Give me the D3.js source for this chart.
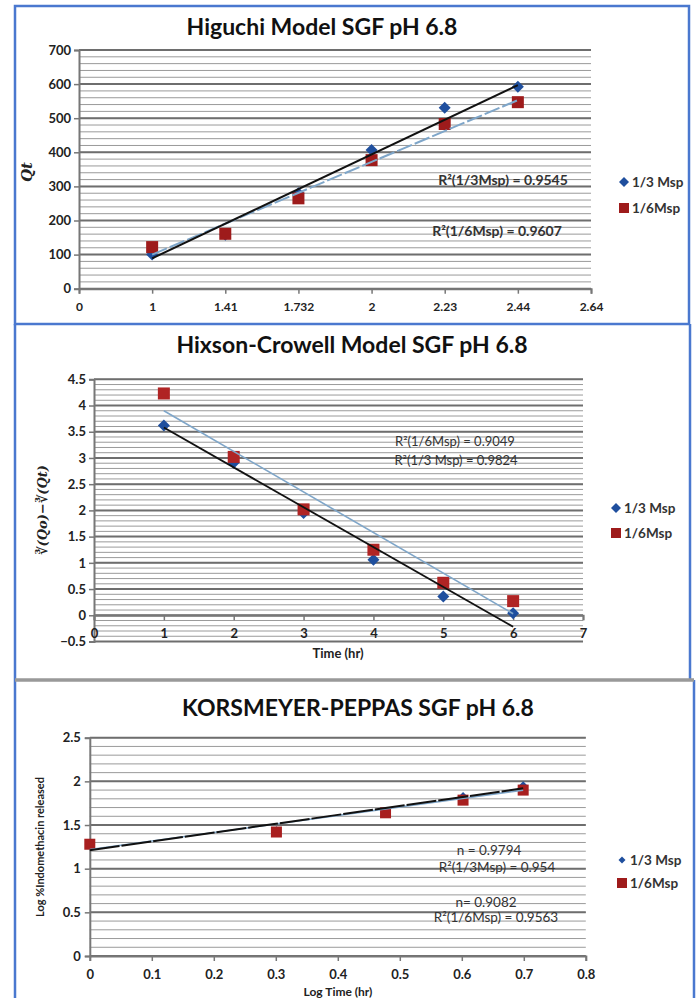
<!DOCTYPE html>
<html><head><meta charset="utf-8">
<script src="https://cdn.jsdelivr.net/npm/d3@7"></script>
<style>
html,body{margin:0;padding:0;background:#fff;}
svg{display:block;}
</style></head>
<body>
<svg id="c" width="697" height="998"></svg>
<script>
// ---------- DATA ----------
const higuchiTicks = ["0","1","1.41","1.732","2","2.23","2.44","2.64"];
const higuchiPos = [1,2,3,4,5,6];
const higuchi13 = [100,158,280,407,531,592];
const higuchi16 = [122,161,265,377,483,547];
const higuchiTrend13 = [89,597];
const higuchiTrend16 = [100,553];

const hixsonTime = [1,2,3,4,5,6];
const hixson13 = [3.62,2.91,1.95,1.06,0.36,0.04];
const hixson16 = [4.23,3.02,2.02,1.25,0.62,0.27];
const hixsonTrend13 = [3.58,-0.22];
const hixsonTrend16 = [3.90,0.03];

const kpLogTime = [0,0.301,0.477,0.602,0.699];
const kp13 = [1.28,1.43,1.65,1.82,1.945];
const kp16 = [1.28,1.42,1.64,1.785,1.90];
const kpTrend13 = [1.21,1.92];
const kpTrend16 = [1.22,1.90];

const seriesNames = ["1/3 Msp","1/6Msp"];

// ---------- DRAW ----------
const svg = d3.select("#c");
const FONT = "Lato, 'Open Sans', sans-serif";
const BLUE = "#1f4f9e", RED = "#9e1b1b", TREND2 = "#7fa6c9";

// panel borders
svg.append("rect").attr("x",15).attr("y",6).attr("width",674).attr("height",318)
  .attr("fill","none").attr("stroke","#4a78cf").attr("stroke-width",2.5);
svg.append("line").attr("x1",15).attr("x2",15).attr("y1",324).attr("y2",998).attr("stroke","#4a78cf").attr("stroke-width",2.5);
svg.append("line").attr("x1",690).attr("x2",690).attr("y1",324).attr("y2",680).attr("stroke","#4a78cf").attr("stroke-width",2.5);
svg.append("line").attr("x1",694).attr("x2",694).attr("y1",680).attr("y2",998).attr("stroke","#4a78cf").attr("stroke-width",2.5);
svg.append("line").attr("x1",15).attr("x2",694).attr("y1",680).attr("y2",680).attr("stroke","#999").attr("stroke-width",3.5);

function grid(g, y, x0, x1, majors, minors){
  g.selectAll(null).data(minors).enter().append("line")
    .attr("x1",x0).attr("x2",x1).attr("y1",d=>y(d)).attr("y2",d=>y(d))
    .attr("stroke","#9a9a9a").attr("stroke-width",1);
  g.selectAll(null).data(majors).enter().append("line")
    .attr("x1",x0).attr("x2",x1).attr("y1",d=>y(d)).attr("y2",d=>y(d))
    .attr("stroke","#6e6e6e").attr("stroke-width",2);
}
function diamond(g, x, y, xs, ys, r){
  g.selectAll(null).data(xs.map((d,i)=>[d,ys[i]])).enter().append("path")
    .attr("d",d=>`M${x(d[0])},${y(d[1])-r}L${x(d[0])+r},${y(d[1])}L${x(d[0])},${y(d[1])+r}L${x(d[0])-r},${y(d[1])}Z`)
    .attr("fill",BLUE);
}
function square(g, x, y, xs, ys, s, col){
  g.selectAll(null).data(xs.map((d,i)=>[d,ys[i]])).enter().append("rect")
    .attr("x",d=>x(d[0])-s/2).attr("y",d=>y(d[1])-s/2).attr("width",s).attr("height",s)
    .attr("fill",col||RED);
}
function trend(g, x, y, xs, ys, col, w, dash){
  const l = g.append("path").datum(xs.map((d,i)=>[d,ys[i]]))
    .attr("d",d3.line().x(d=>x(d[0])).y(d=>y(d[1])))
    .attr("stroke",col).attr("stroke-width",w).attr("fill","none");
  if(dash) l.attr("stroke-dasharray",dash);
}
function legend(g, x, y1, y2, fs, dsz){
  g.append("path").attr("d",`M${x},${y1-dsz}L${x+dsz},${y1}L${x},${y1+dsz}L${x-dsz},${y1}Z`).attr("fill",BLUE);
  g.append("rect").attr("x",x-5).attr("y",y2-5).attr("width",10).attr("height",10).attr("fill",RED);
  g.append("text").attr("x",x+8).attr("y",y1).attr("dy","0.35em").text(seriesNames[0])
    .attr("font-family",FONT).attr("font-size",fs).attr("font-weight","bold").attr("fill","#333");
  g.append("text").attr("x",x+8).attr("y",y2).attr("dy","0.35em").text(seriesNames[1])
    .attr("font-family",FONT).attr("font-size",fs).attr("font-weight","bold").attr("fill","#333");
}
function txt(g, x, y, s, fs, opts){
  opts = opts||{};
  const t = g.append("text").attr("x",x).attr("y",y).attr("dy","0.35em").text(s)
    .attr("font-family",opts.family||FONT).attr("font-size",fs)
    .attr("font-weight",opts.weight||"normal").attr("fill",opts.fill||"#222")
    .attr("text-anchor",opts.anchor||"start");
  if(opts.style) t.attr("font-style",opts.style);
  if(opts.rotate) t.attr("transform",`rotate(-90,${x},${y})`);
  return t;
}

// ===== Panel 1: Higuchi =====
{
  const g = svg.append("g");
  const x = d3.scaleLinear().domain([0,7]).range([79,591]);
  const y = d3.scaleLinear().domain([0,700]).range([288.7,50]);
  grid(g, y, 79, 591, d3.range(0,701,100), d3.range(0,701,20));
  // axes
  const ya = g.append("g").attr("transform","translate(79,0)")
    .call(d3.axisLeft(y).tickValues(d3.range(0,701,100)).tickSize(5).tickFormat(d3.format("d")));
  const xa = g.append("g").attr("transform",`translate(0,${y(0)})`)
    .call(d3.axisBottom(x).tickValues(d3.range(0,8)).tickSize(5).tickFormat(i=>higuchiTicks[i]));
  [ya,xa].forEach(a=>{a.select(".domain").attr("stroke","#777").attr("stroke-width",2);
    a.selectAll("line").attr("stroke","#777").attr("stroke-width",1.5);
    a.selectAll("text").attr("font-family",FONT).attr("font-weight","bold").attr("fill","#222");});
  ya.selectAll("text").attr("font-size",13).attr("x",-8);
  xa.selectAll("text").attr("font-size",12).attr("y",14);
  diamond(g, x, y, higuchiPos, higuchi13, 6);
  square(g, x, y, higuchiPos, higuchi16, 12);
  trend(g, x, y, [1,6], higuchiTrend16, TREND2, 2, "16,3");
  trend(g, x, y, [1,6], higuchiTrend13, "#111", 2);
  txt(g, 322, 27, "Higuchi Model SGF pH 6.8", 23, {weight:"bold",anchor:"middle",fill:"#111"});
  txt(g, 27, 172, "Qt", 15, {weight:"bold",style:"italic",anchor:"middle",rotate:true,family:"'DejaVu Serif', serif"});
  txt(g, 503, 180, "R²(1/3Msp) = 0.9545", 14, {anchor:"middle",fill:"#333",weight:"bold"});
  txt(g, 497, 231, "R²(1/6Msp) = 0.9607", 14, {anchor:"middle",fill:"#333",weight:"bold"});
  legend(g, 624, 182, 208, 13.5, 5);
}

// ===== Panel 2: Hixson-Crowell =====
{
  const g = svg.append("g");
  const x = d3.scaleLinear().domain([0,7]).range([94,583]);
  const y = d3.scaleLinear().domain([-0.5,4.5]).range([641.5,379.3]);
  grid(g, y, 94, 583, d3.range(-0.5,4.51,0.5), d3.range(-5,46,1).map(d=>d/10));
  const ya = g.append("g").attr("transform","translate(94,0)")
    .call(d3.axisLeft(y).tickValues(d3.range(-0.5,4.51,0.5)).tickSize(5).tickFormat(d=>d3.format("")(+d.toFixed(1))));
  const xa = g.append("g").attr("transform",`translate(0,${y(0)})`)
    .call(d3.axisBottom(x).tickValues(d3.range(0,8)).tickSize(5).tickFormat(d3.format("d")));
  [ya,xa].forEach(a=>{a.select(".domain").attr("stroke","#777").attr("stroke-width",2);
    a.selectAll("line").attr("stroke","#777").attr("stroke-width",1.5);
    a.selectAll("text").attr("font-family",FONT).attr("font-weight","bold").attr("fill","#222").attr("font-size",13);});
  ya.selectAll("text").attr("x",-8);
  xa.selectAll("text").attr("y",14);
  diamond(g, x, y, hixsonTime, hixson13, 6);
  square(g, x, y, hixsonTime, hixson16, 12, "#b02424");
  trend(g, x, y, [1,6], hixsonTrend16, TREND2, 1.6);
  trend(g, x, y, [1,6], hixsonTrend13, "#111", 1.8);
  txt(g, 352, 345, "Hixson-Crowell Model SGF pH 6.8", 23, {weight:"bold",anchor:"middle",fill:"#111"});
  txt(g, 42, 510, "∛(Qo)−∛(Qt)", 13, {weight:"bold",style:"italic",anchor:"middle",rotate:true,family:"'DejaVu Serif', serif"});
  txt(g, 338, 653, "Time (hr)", 13, {weight:"bold",anchor:"middle"});
  txt(g, 455, 441, "R²(1/6Msp) = 0.9049", 13, {anchor:"middle",fill:"#333"});
  txt(g, 456, 460, "R²(1/3 Msp) = 0.9824", 13, {anchor:"middle",fill:"#333"});
  legend(g, 616, 508, 533, 13.5, 5);
}

// ===== Panel 3: Korsmeyer-Peppas =====
{
  const g = svg.append("g");
  const x = d3.scaleLinear().domain([0,0.8]).range([89.8,585.8]);
  const y = d3.scaleLinear().domain([0,2.5]).range([956,737.7]);
  grid(g, y, 89.8, 585.8, d3.range(0,2.51,0.5), d3.range(0,26,1).map(d=>d/10));
  const ya = g.append("g").attr("transform","translate(89.8,0)")
    .call(d3.axisLeft(y).tickValues(d3.range(0,2.51,0.5)).tickSize(5).tickFormat(d=>d3.format("")(+d.toFixed(1))));
  const xa = g.append("g").attr("transform",`translate(0,${y(0)})`)
    .call(d3.axisBottom(x).tickValues(d3.range(0,9).map(d=>d/10)).tickSize(5).tickFormat(d=>d3.format("")(+d.toFixed(1))));
  [ya,xa].forEach(a=>{a.select(".domain").attr("stroke","#777").attr("stroke-width",2);
    a.selectAll("line").attr("stroke","#777").attr("stroke-width",1.5);
    a.selectAll("text").attr("font-family",FONT).attr("font-weight","bold").attr("fill","#222").attr("font-size",13);});
  ya.selectAll("text").attr("x",-9);
  xa.selectAll("text").attr("y",14);
  diamond(g, x, y, kpLogTime, kp13, 5);
  square(g, x, y, kpLogTime, kp16, 11, "#a81f1f");
  trend(g, x, y, [0,0.699], kpTrend16, TREND2, 1.6);
  trend(g, x, y, [0,0.699], kpTrend13, "#111", 2, "30,2");
  txt(g, 358, 708, "KORSMEYER-PEPPAS SGF pH 6.8", 23, {weight:"bold",anchor:"middle",fill:"#111"});
  txt(g, 40, 847, "Log %Indomethacin  released", 11, {weight:"bold",anchor:"middle",rotate:true});
  txt(g, 338, 992, "Log Time (hr)", 12, {weight:"bold",anchor:"middle"});
  txt(g, 489, 850, "n = 0.9794", 13.5, {anchor:"middle",fill:"#333"});
  txt(g, 497, 867, "R²(1/3Msp) = 0.954", 13.5, {anchor:"middle",fill:"#333"});
  txt(g, 486, 902, "n= 0.9082", 13.5, {anchor:"middle",fill:"#333"});
  txt(g, 496, 917, "R²(1/6Msp) = 0.9563", 13.5, {anchor:"middle",fill:"#333"});
  legend(g, 622, 860, 883, 13.5, 3.5);
}
</script>
</body></html>
